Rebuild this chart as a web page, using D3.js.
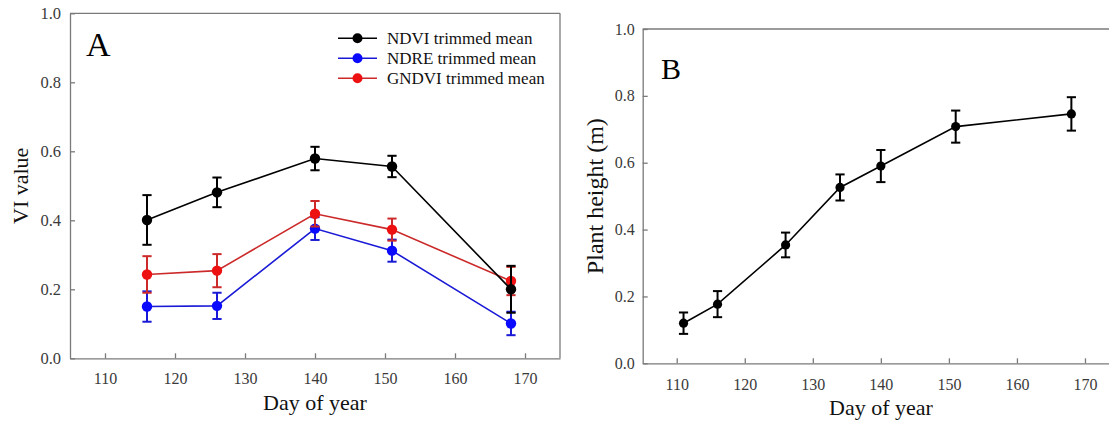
<!DOCTYPE html>
<html>
<head>
<meta charset="utf-8">
<script src="https://cdn.jsdelivr.net/npm/d3@7"></script>
<style>
  body { margin: 0; background: #fff; }
  svg { display: block; }
  .axis path, .axis line { stroke: #7a7a7a; stroke-width: 1.3px; }
</style>
</head>
<body>
<div id="chart-area"></div>
<script>
// Panel A data
let daysA = [116, 126, 140, 151, 168];
let ndvi = [0.401, 0.481, 0.579, 0.556, 0.200];
let ndviErr = [0.072, 0.043, 0.034, 0.031, 0.068];
let ndre = [0.150, 0.152, 0.376, 0.312, 0.101];
let ndreErr = [0.044, 0.038, 0.033, 0.032, 0.034];
let gndvi = [0.243, 0.254, 0.419, 0.373, 0.224];
let gndviErr = [0.053, 0.048, 0.037, 0.032, 0.041];
let legendNames = ["NDVI trimmed mean", "NDRE trimmed mean", "GNDVI trimmed mean"];

// Panel B data
let daysB = [111, 116, 126, 134, 140, 151, 168];
let plantHeight = [0.120, 0.177, 0.354, 0.526, 0.590, 0.708, 0.746];
let plantHeightErr = [0.032, 0.039, 0.037, 0.039, 0.048, 0.048, 0.050];

let xTicks = [110, 120, 130, 140, 150, 160, 170];
let yTicks = [0, 0.2, 0.4, 0.6, 0.8, 1.0];

let serif = "'Liberation Serif', 'Times New Roman', serif";

let width = 1109,
	height = 423;

let svg = d3.select("#chart-area")
	.append("svg")
	.attr("width", width)
	.attr("height", height)
	.style("font-family", serif);

function drawPanel(g, opt) {
	let x = d3.scaleLinear().domain([105, 175]).range([opt.left, opt.right]);
	let y = d3.scaleLinear().domain([0, 1]).range([opt.bottom, opt.top]);

	let xAxis = d3.axisBottom(x)
		.tickValues(xTicks)
		.tickSizeInner(-5)
		.tickSizeOuter(0)
		.tickPadding(opt.xPad)
		.tickFormat(d3.format("d"));
	let yAxis = d3.axisLeft(y)
		.tickValues(yTicks)
		.tickSizeInner(-5)
		.tickSizeOuter(0)
		.tickPadding(opt.yPad)
		.tickFormat(d3.format(".1f"));

	g.append("g")
		.attr("class", "axis x-axis")
		.attr("transform", "translate(0," + opt.bottom + ")")
		.call(xAxis)
		.attr("font-family", serif)
		.selectAll("text")
		.style("font-family", serif)
		.style("font-size", "16px")
		.attr("fill", "#3a3a3a");
	g.append("g")
		.attr("class", "axis y-axis")
		.attr("transform", "translate(" + opt.left + ",0)")
		.call(yAxis)
		.attr("font-family", serif)
		.selectAll("text")
		.style("font-family", serif)
		.style("font-size", opt.yTickSize + "px")
		.attr("fill", "#3a3a3a");

	// top and right frame
	g.append("line")
		.attr("x1", opt.left).attr("x2", opt.right)
		.attr("y1", opt.top).attr("y2", opt.top)
		.attr("stroke", "#7a7a7a").attr("stroke-width", 1.3);
	g.append("line")
		.attr("x1", opt.right).attr("x2", opt.right)
		.attr("y1", opt.top).attr("y2", opt.bottom)
		.attr("stroke", "#7a7a7a").attr("stroke-width", 1.3);

	g.append("text")
		.text("Day of year")
		.attr("x", opt.titleX)
		.attr("y", opt.titleY)
		.attr("text-anchor", "middle")
		.attr("font-size", opt.titleSize + "px")
		.attr("fill", "#111");
	g.append("text")
		.text(opt.yLabel)
		.attr("transform", "translate(" + opt.yLabelX + "," + ((opt.top + opt.bottom) / 2) + ") rotate(-90)")
		.attr("dy", "0.35em")
		.attr("text-anchor", "middle")
		.attr("font-size", opt.yLabelSize + "px")
		.attr("fill", "#111");
	g.append("text")
		.text(opt.letter)
		.attr("x", opt.letterX)
		.attr("y", opt.letterY)
		.attr("font-size", opt.letterSize + "px")
		.attr("fill", "#000");

	return { x: x, y: y };
}

function drawSeries(g, sc, days, vals, errs, lineColor, dotColor, r) {
	let pts = days.map((d, i) => ({ day: d, v: vals[i], e: errs[i] }));
	let line = d3.line().x(d => sc.x(d.day)).y(d => sc.y(d.v));

	g.append("path")
		.datum(pts)
		.attr("d", line)
		.attr("fill", "none")
		.attr("stroke", lineColor)
		.attr("stroke-width", 1.6);

	let eb = g.append("g").attr("stroke", lineColor).attr("stroke-width", 2);
	eb.selectAll(".bar")
		.data(pts)
		.enter()
		.append("line")
		.attr("x1", d => sc.x(d.day)).attr("x2", d => sc.x(d.day))
		.attr("y1", d => sc.y(d.v - d.e)).attr("y2", d => sc.y(d.v + d.e));
	eb.selectAll(".capTop")
		.data(pts)
		.enter()
		.append("line")
		.attr("x1", d => sc.x(d.day) - 4.6).attr("x2", d => sc.x(d.day) + 4.6)
		.attr("y1", d => sc.y(d.v + d.e)).attr("y2", d => sc.y(d.v + d.e));
	eb.selectAll(".capBot")
		.data(pts)
		.enter()
		.append("line")
		.attr("x1", d => sc.x(d.day) - 4.6).attr("x2", d => sc.x(d.day) + 4.6)
		.attr("y1", d => sc.y(d.v - d.e)).attr("y2", d => sc.y(d.v - d.e));

	g.selectAll(null)
		.data(pts)
		.enter()
		.append("circle")
		.attr("cx", d => sc.x(d.day))
		.attr("cy", d => sc.y(d.v))
		.attr("r", r)
		.attr("fill", dotColor);
}

// Panel A
let gA = svg.append("g");
let scA = drawPanel(gA, {
	left: 70, right: 560, top: 13.3, bottom: 358.3,
	xPad: 14, yPad: 9, yTickSize: 16.5,
	titleX: 315, titleY: 410, titleSize: 22,
	yLabel: "VI value", yLabelX: 20, yLabelSize: 22,
	letter: "A", letterX: 86, letterY: 56, letterSize: 34
});

let colorsA = [
	{ line: "#000000", dot: "#000000" },
	{ line: "#1a1ad6", dot: "#0a0aff" },
	{ line: "#cc2a2a", dot: "#ee1111" }
];

drawSeries(gA, scA, daysA, ndre, ndreErr, colorsA[1].line, colorsA[1].dot, 5.2);
drawSeries(gA, scA, daysA, gndvi, gndviErr, colorsA[2].line, colorsA[2].dot, 5.2);
drawSeries(gA, scA, daysA, ndvi, ndviErr, colorsA[0].line, colorsA[0].dot, 5.2);

// legend
let legend = gA.append("g");
legendNames.forEach((name, i) => {
	let ly = 38.3 + i * 20;
	legend.append("line")
		.attr("x1", 338).attr("x2", 377)
		.attr("y1", ly).attr("y2", ly)
		.attr("stroke", colorsA[i].line)
		.attr("stroke-width", 1.6);
	legend.append("circle")
		.attr("cx", 357.5).attr("cy", ly).attr("r", 5)
		.attr("fill", colorsA[i].dot);
	legend.append("text")
		.text(name)
		.attr("x", 387).attr("y", ly)
		.attr("dy", "0.33em")
		.attr("font-size", "17px")
		.attr("fill", "#111");
});

// Panel B
let gB = svg.append("g");
let scB = drawPanel(gB, {
	left: 642.7, right: 1119, top: 29, bottom: 363.3,
	xPad: 15, yPad: 8, yTickSize: 16,
	titleX: 881, titleY: 415, titleSize: 22,
	yLabel: "Plant height (m)", yLabelX: 595, yLabelSize: 24,
	letter: "B", letterX: 661, letterY: 79, letterSize: 30
});

drawSeries(gB, scB, daysB, plantHeight, plantHeightErr, "#000", "#000", 4.6);
</script>
</body>
</html>
